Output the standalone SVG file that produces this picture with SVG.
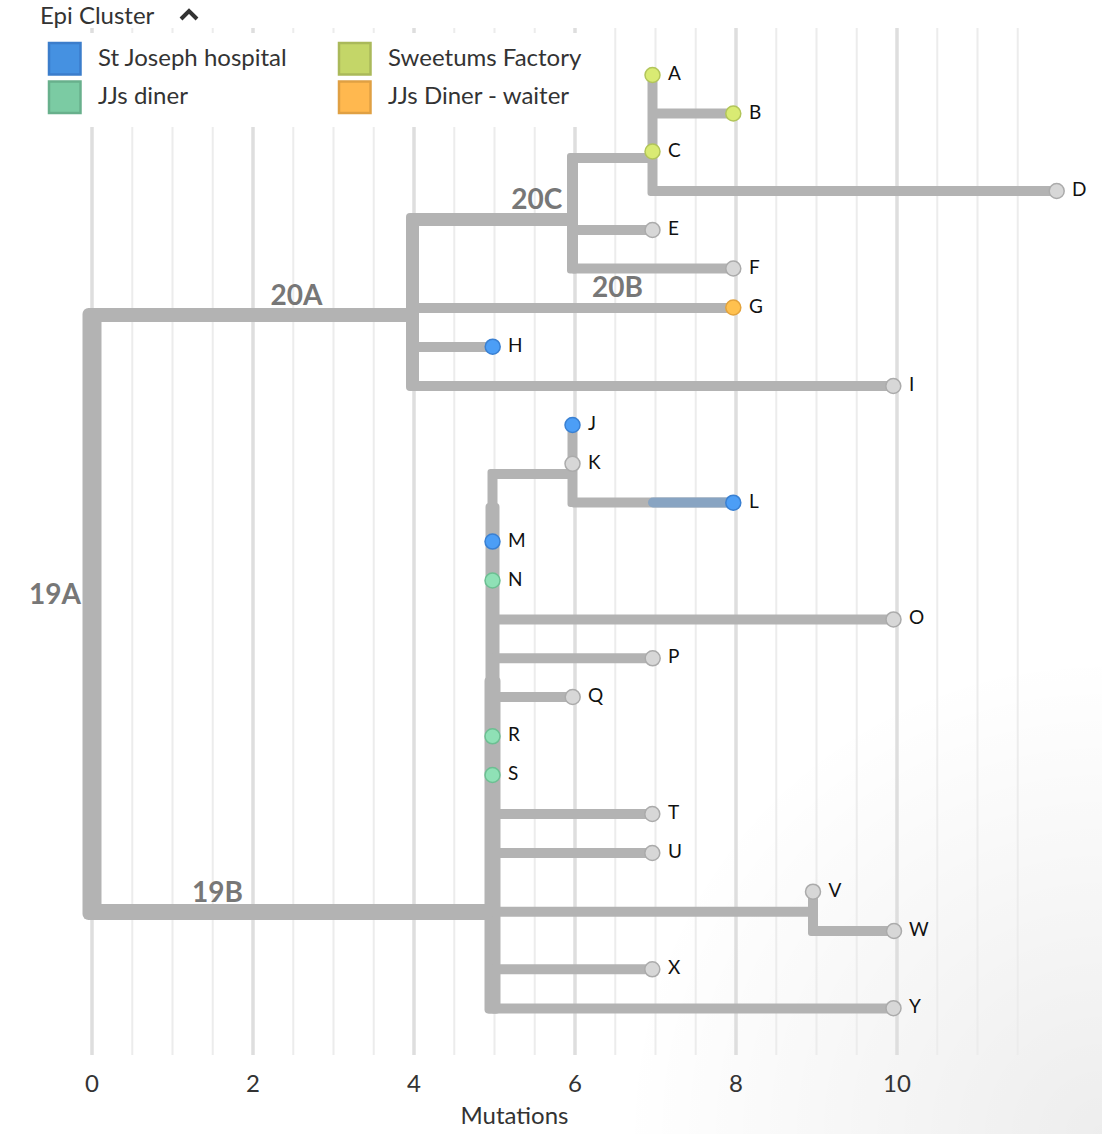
<svg xmlns="http://www.w3.org/2000/svg" width="1102" height="1134" viewBox="0 0 1102 1134">
<defs>
<radialGradient id="shade" gradientUnits="userSpaceOnUse" cx="1102" cy="1134" r="480">
<stop offset="0" stop-color="#000" stop-opacity="0.07"/>
<stop offset="1" stop-color="#000" stop-opacity="0"/>
</radialGradient>
</defs>
<style>
text{font-family:Lato,"Liberation Sans",sans-serif}
.gmin{stroke:#ececec;stroke-width:2}
.gmaj{stroke:#dedede;stroke-width:3.5}
.st{fill:none;stroke:#b3b3b3;stroke-width:10}
.tb{fill:#b3b3b3}
.bl{font-size:28px;font-weight:700;fill:#777;text-anchor:middle}
.tip{font-size:19px;fill:#111}
.n{stroke-width:1.5}
.gray{fill:#d7d7d7;stroke:#ababab}
.blue{fill:#4c9ef6;stroke:#3a80d2}
.green{fill:#8fe1b6;stroke:#6cbf92}
.yel{fill:#d9eb73;stroke:#b2c55a}
.org{fill:#ffc14f;stroke:#e3a33d}
.lg{font-size:24px;fill:#333}
.ax{font-size:24px;fill:#333;text-anchor:middle}
</style>
<rect width="1102" height="1134" fill="#fff"/>
<rect width="1102" height="1134" fill="url(#shade)"/>
<g id="grid">
<line class="gmaj" x1="92" y1="28" x2="92" y2="1055"/>
<line class="gmin" x1="132.25" y1="28" x2="132.25" y2="1055"/>
<line class="gmin" x1="172.5" y1="28" x2="172.5" y2="1055"/>
<line class="gmin" x1="212.75" y1="28" x2="212.75" y2="1055"/>
<line class="gmaj" x1="253" y1="28" x2="253" y2="1055"/>
<line class="gmin" x1="293.25" y1="28" x2="293.25" y2="1055"/>
<line class="gmin" x1="333.5" y1="28" x2="333.5" y2="1055"/>
<line class="gmin" x1="373.75" y1="28" x2="373.75" y2="1055"/>
<line class="gmaj" x1="414" y1="28" x2="414" y2="1055"/>
<line class="gmin" x1="454.25" y1="28" x2="454.25" y2="1055"/>
<line class="gmin" x1="494.5" y1="28" x2="494.5" y2="1055"/>
<line class="gmin" x1="534.75" y1="28" x2="534.75" y2="1055"/>
<line class="gmaj" x1="575" y1="28" x2="575" y2="1055"/>
<line class="gmin" x1="615.25" y1="28" x2="615.25" y2="1055"/>
<line class="gmin" x1="655.5" y1="28" x2="655.5" y2="1055"/>
<line class="gmin" x1="695.75" y1="28" x2="695.75" y2="1055"/>
<line class="gmaj" x1="736" y1="28" x2="736" y2="1055"/>
<line class="gmin" x1="776.25" y1="28" x2="776.25" y2="1055"/>
<line class="gmin" x1="816.5" y1="28" x2="816.5" y2="1055"/>
<line class="gmin" x1="856.75" y1="28" x2="856.75" y2="1055"/>
<line class="gmaj" x1="897" y1="28" x2="897" y2="1055"/>
<line class="gmin" x1="937.25" y1="28" x2="937.25" y2="1055"/>
<line class="gmin" x1="977.5" y1="28" x2="977.5" y2="1055"/>
<line class="gmin" x1="1017.75" y1="28" x2="1017.75" y2="1055"/>
</g>
<g id="axis">
<text class="ax" x="92" y="1092">0</text>
<text class="ax" x="253" y="1092">2</text>
<text class="ax" x="414" y="1092">4</text>
<text class="ax" x="575" y="1092">6</text>
<text class="ax" x="736" y="1092">8</text>
<text class="ax" x="897" y="1092">10</text>
<text class="ax" x="514.5" y="1124">Mutations</text>
</g>
<g id="legend">
<rect x="30" y="33" width="570" height="94" fill="#fff"/>
<text class="lg" x="40" y="24">Epi Cluster</text>
<polyline points="181,19 189,11 197,19" fill="none" stroke="#333" stroke-width="4"/>
<rect x="49" y="43" width="31.5" height="31.5" fill="#4591e1" stroke="#3b7dcb" stroke-width="2.5"/>
<text class="lg" x="98" y="66">St Joseph hospital</text>
<rect x="49" y="81.5" width="31.5" height="31.5" fill="#7bcba3" stroke="#68b08c" stroke-width="2.5"/>
<text class="lg" x="98" y="104">JJs diner</text>
<rect x="339" y="43" width="31.5" height="31.5" fill="#c4d668" stroke="#aab95a" stroke-width="2.5"/>
<text class="lg" x="388" y="66">Sweetums Factory</text>
<rect x="339" y="81.5" width="31.5" height="31.5" fill="#ffb84f" stroke="#e0a043" stroke-width="2.5"/>
<text class="lg" x="388" y="104">JJs Diner - waiter</text>
</g>
<g id="connectors">
<rect class="tb" x="82.5" y="308" width="19" height="612" rx="6"/>
<rect class="tb" x="406" y="213" width="13" height="178" rx="4"/>
<rect class="tb" x="567" y="153" width="11" height="120.5" rx="3"/>
<rect class="tb" x="647.5" y="73" width="10" height="123" rx="3"/>
<rect class="tb" x="567.5" y="425" width="10" height="82" rx="3"/>
<rect class="tb" x="487.5" y="469" width="10" height="60" rx="3"/>
<rect class="tb" x="485.5" y="503" width="14" height="510.5" rx="4"/>
<rect class="tb" x="484.5" y="677" width="16" height="336.5" rx="4"/>
<rect class="tb" x="808" y="891" width="10" height="45" rx="3"/>
<path class="st" style="stroke-width:14" d="M92 315H412.5"/>
<path class="st" style="stroke-width:16" d="M92 912H492.5"/>
<path class="st" style="stroke-width:13" d="M412.5 219.5H572.5"/>
<path class="st" d="M412.5 308H733.3"/>
<path class="st" d="M412.5 347H492.7"/>
<path class="st" d="M412.5 386H893.3"/>
<path class="st" d="M572.5 158H652.5"/>
<path class="st" d="M572.5 230H652.5"/>
<path class="st" d="M572.5 268.5H733.3"/>
<path class="st" d="M652.5 113.5H733.3"/>
<path class="st" d="M652.5 191H1056.7"/>
<path class="st" d="M492.5 474H572.5"/>
<path class="st" d="M572.5 502.5H733.3"/>
<path d="M653 502.5H733.3" fill="none" stroke="#88a4c2" stroke-width="10" stroke-linecap="round"/>
<path class="st" d="M492.5 619.5H893.5"/>
<path class="st" d="M492.5 658.3H652.7"/>
<path class="st" d="M492.5 697H572.7"/>
<path class="st" d="M492.5 814H652.3"/>
<path class="st" d="M492.5 853H652.3"/>
<path class="st" d="M492.5 911.7H813"/>
<path class="st" d="M813 931H894"/>
<path class="st" d="M492.5 969.3H652.3"/>
<path class="st" d="M492.5 1008.5H893.5"/>
</g>
<g id="branch-labels">
<text class="bl" x="55" y="604">19A</text>
<text class="bl" x="217.5" y="902">19B</text>
<text class="bl" x="296.5" y="305">20A</text>
<text class="bl" x="536.7" y="209">20C</text>
<text class="bl" x="617.5" y="297">20B</text>
</g>
<g id="node-A"><circle class="n yel" cx="652.5" cy="75" r="7.5"/><text class="tip" x="668" y="80">A</text></g>
<g id="node-B"><circle class="n yel" cx="733.3" cy="113.5" r="7.5"/><text class="tip" x="749" y="118.5">B</text></g>
<g id="node-C"><circle class="n yel" cx="652.5" cy="151.5" r="7.5"/><text class="tip" x="668" y="156.5">C</text></g>
<g id="node-D"><circle class="n gray" cx="1056.7" cy="191" r="7.5"/><text class="tip" x="1072" y="196">D</text></g>
<g id="node-E"><circle class="n gray" cx="652.5" cy="230" r="7.5"/><text class="tip" x="668" y="235">E</text></g>
<g id="node-F"><circle class="n gray" cx="733.3" cy="268.5" r="7.5"/><text class="tip" x="749" y="273.5">F</text></g>
<g id="node-G"><circle class="n org" cx="733.3" cy="307.5" r="7.5"/><text class="tip" x="749" y="312.5">G</text></g>
<g id="node-H"><circle class="n blue" cx="492.7" cy="346.7" r="7.5"/><text class="tip" x="508" y="351.7">H</text></g>
<g id="node-I"><circle class="n gray" cx="893.3" cy="386" r="7.5"/><text class="tip" x="909" y="391">I</text></g>
<g id="node-J"><circle class="n blue" cx="572.5" cy="425" r="7.5"/><text class="tip" x="588" y="430">J</text></g>
<g id="node-K"><circle class="n gray" cx="572.5" cy="463.8" r="7.5"/><text class="tip" x="588" y="468.8">K</text></g>
<g id="node-L"><circle class="n blue" cx="733.3" cy="502.7" r="7.5"/><text class="tip" x="749" y="507.7">L</text></g>
<g id="node-M"><circle class="n blue" cx="492.5" cy="541.6" r="7.5"/><text class="tip" x="508" y="546.6">M</text></g>
<g id="node-N"><circle class="n green" cx="492.5" cy="580.5" r="7.5"/><text class="tip" x="508" y="585.5">N</text></g>
<g id="node-O"><circle class="n gray" cx="893.5" cy="619.4" r="7.5"/><text class="tip" x="909" y="624.4">O</text></g>
<g id="node-P"><circle class="n gray" cx="652.7" cy="658.3" r="7.5"/><text class="tip" x="668" y="663.3">P</text></g>
<g id="node-Q"><circle class="n gray" cx="572.7" cy="697" r="7.5"/><text class="tip" x="588" y="702">Q</text></g>
<g id="node-R"><circle class="n green" cx="492.5" cy="736.3" r="7.5"/><text class="tip" x="508" y="741.3">R</text></g>
<g id="node-S"><circle class="n green" cx="492.5" cy="775" r="7.5"/><text class="tip" x="508" y="780">S</text></g>
<g id="node-T"><circle class="n gray" cx="652.3" cy="814" r="7.5"/><text class="tip" x="668" y="819">T</text></g>
<g id="node-U"><circle class="n gray" cx="652.3" cy="853" r="7.5"/><text class="tip" x="668" y="858">U</text></g>
<g id="node-V"><circle class="n gray" cx="813" cy="891.7" r="7.5"/><text class="tip" x="828.5" y="896.7">V</text></g>
<g id="node-W"><circle class="n gray" cx="894" cy="931" r="7.5"/><text class="tip" x="909" y="936">W</text></g>
<g id="node-X"><circle class="n gray" cx="652.3" cy="969.3" r="7.5"/><text class="tip" x="668" y="974.3">X</text></g>
<g id="node-Y"><circle class="n gray" cx="893.5" cy="1008.2" r="7.5"/><text class="tip" x="909" y="1013.2">Y</text></g>
</svg>
